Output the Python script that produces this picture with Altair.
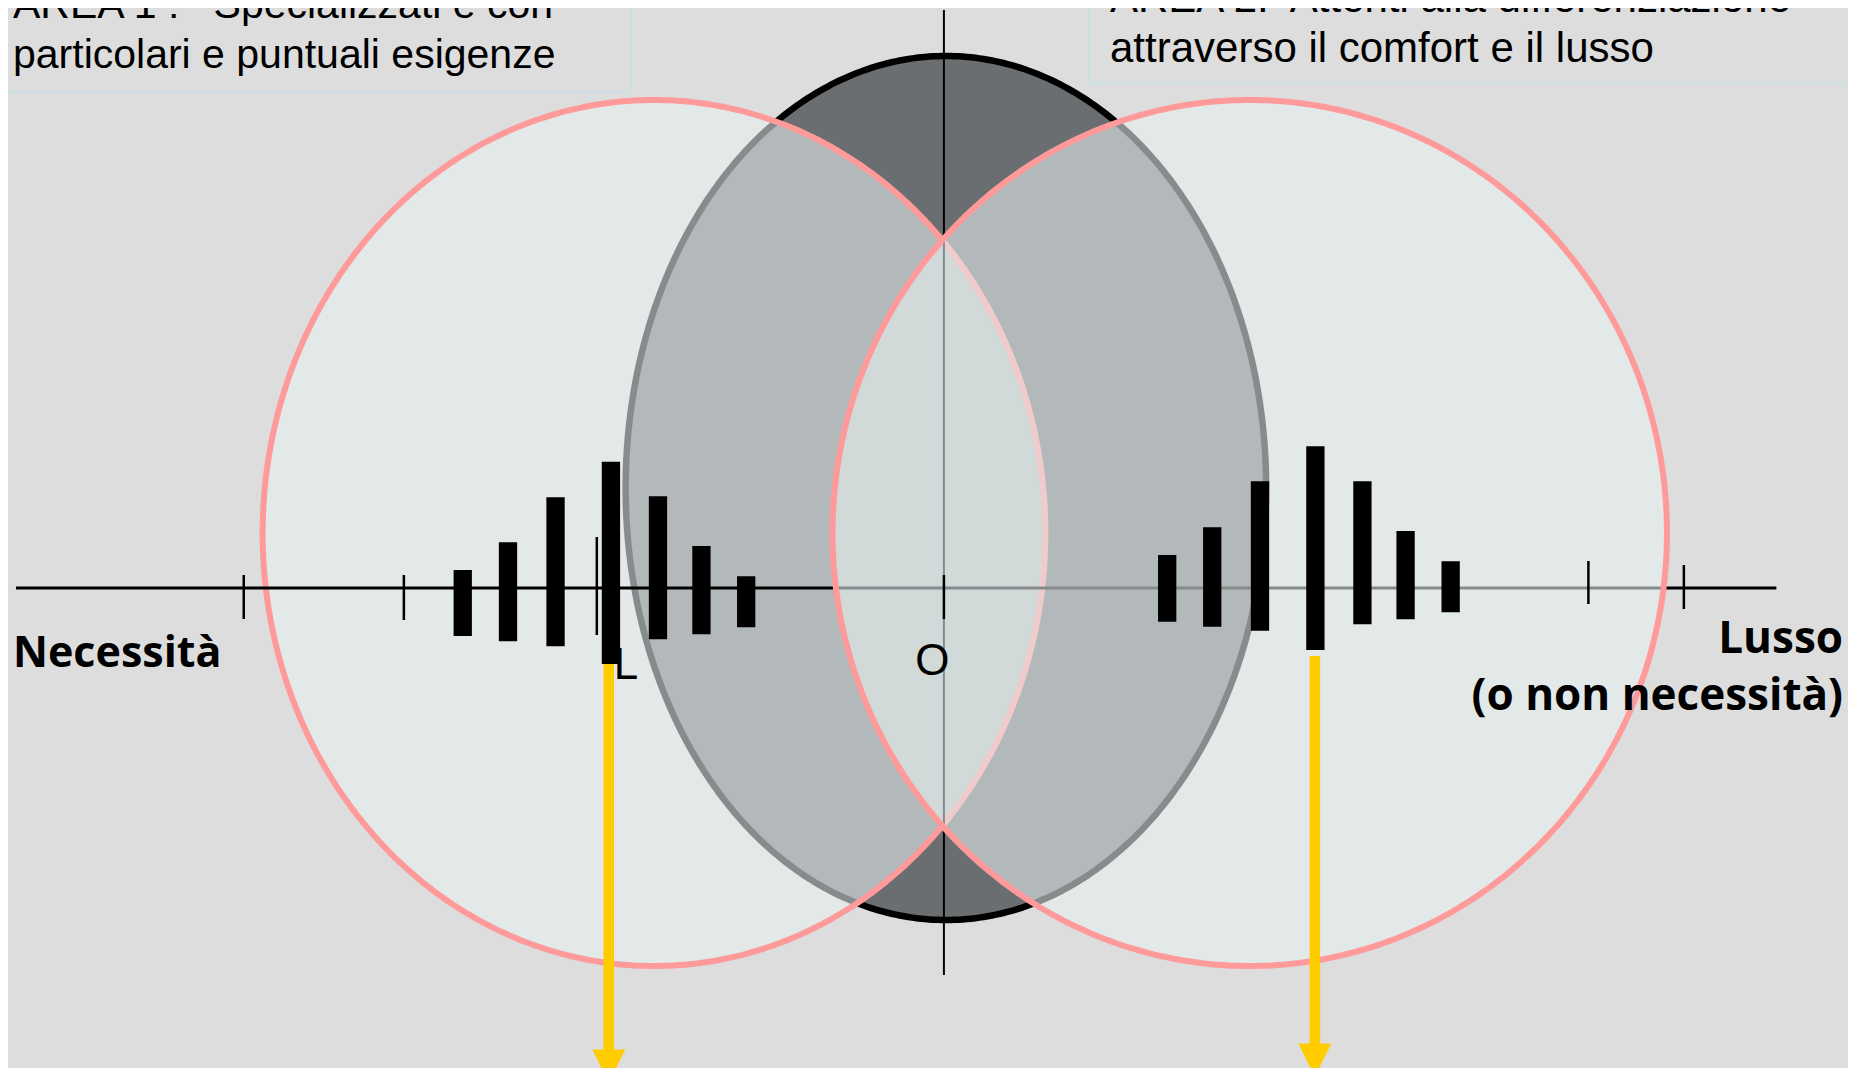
import numpy as np
import pandas as pd
import altair as alt

# ---- coordinate system: units = px right of / above the origin "O" ----
X_DOMAIN = [-936, 904]
Y_DOMAIN = [-480, 580]

# ellipses: middle, left, right  (cx, cy, rx, ry)
ELL_NAMES = ["middle", "left", "right"]
ELL_CX = [2, -291.5, 307.5]
ELL_CY = [100, 55, 55]
ELL_RX = [322, 393.5, 419.5]
ELL_RY = [432, 433, 433]

# bars (centre x, top, bottom)
LEFT_BAR_X = [-483.8, -438.3, -390.5, -334.8, -287.5, -243.8, -198.8]
LEFT_BAR_TOP = [18, 45.7, 90.7, 126.3, 91.7, 42, 11.7]
LEFT_BAR_BOTTOM = [-48, -53.3, -58.3, -76, -51.3, -46.3, -39.3]
RIGHT_BAR_X = [224.5, 269.8, 317.8, 373.5, 420.8, 464.2, 509.5]
RIGHT_BAR_TOP = [33, 60.7, 106.7, 141.7, 106.7, 57, 26.7]
RIGHT_BAR_BOTTOM = [-33.7, -38.7, -42.7, -62, -36.3, -31.3, -24.3]

# ticks on the horizontal axis
TICK_X = [-704, -543, -349, 0, 648, 744]
TICK_TOP = [13, 13, 51, 13, 27, 23]
TICK_BOTTOM = [-31, -32, -47, -31, -16, -21]

# axes
H_AXIS = [-933, 837]
V_AXIS = [-387, 578]

# arrows
ARROW_X = [-337, 373]
ARROW_TOP = [-76, -68]
ARROW_HEAD = [-478, -472]
ARROW_BASE = [-462, -456]

# text boxes
BOX_X1 = [-960, 146]
BOX_X2 = [-315, 940]
BOX_Y1 = [496, 505]
BOX_Y2 = [600, 600]

LEFT_BOX_LINES = ["AREA 1 :\u00a0\u00a0 Specializzati e con", "particolari e puntuali esigenze"]
LEFT_BOX_X = [-936, -936]
LEFT_BOX_Y = [570, 520]
RIGHT_BOX_LINES = ["AREA 2:\u00a0 Attenti alla differenziazione", "attraverso il comfort e il lusso"]
RIGHT_BOX_X = [167, 167]
RIGHT_BOX_Y = [576, 526]

BIG_LEFT = ["Necessità"]
BIG_LEFT_X = [-936]
BIG_LEFT_Y = [-79]
BIG_RIGHT = ["Lusso", "(o non necessità)"]
BIG_RIGHT_X = [904, 904]
BIG_RIGHT_Y = [-65, -122]

AXIS_LABELS = ["O", "L"]
AXIS_LABEL_X = [-11.5, -332]
AXIS_LABEL_Y = [-87, -91]

BG = "#dddddd"
CIRCLE_FILL = "#e7f0f0"
CIRCLE_ALPHA = 0.58
PINK = "#ff9a9a"
DARK = "#6b6e70"
YELLOW = "#ffcc00"
SANS = "Liberation Sans, Arial, sans-serif"
BOLD = "Open Sans"

xs = alt.Scale(domain=X_DOMAIN, nice=False, zero=False)
ys = alt.Scale(domain=Y_DOMAIN, nice=False, zero=False)


def X(f):
    return alt.X(f, type="quantitative", scale=xs, axis=None)


def Y(f):
    return alt.Y(f, type="quantitative", scale=ys, axis=None)


def ellipse_frames(k, n=240):
    cx, cy, rx, ry = ELL_CX[k], ELL_CY[k], ELL_RX[k], ELL_RY[k]
    t = np.linspace(0, np.pi, n)
    area = pd.DataFrame({"x": cx + rx * np.cos(t),
                         "y": cy + ry * np.sin(t),
                         "y2": cy - ry * np.sin(t)})
    tt = np.linspace(0, 2 * np.pi, 2 * n + 1)
    line = pd.DataFrame({"x": cx + rx * np.cos(tt), "y": cy + ry * np.sin(tt),
                         "i": np.arange(len(tt))})
    return area, line


def ell_fill(k, color, opacity):
    a, _ = ellipse_frames(k)
    return alt.Chart(a).mark_area(color=color, opacity=opacity, interpolate="linear").encode(
        x=X("x"), y=Y("y"), y2="y2")


def ell_stroke(k, color, width):
    _, l = ellipse_frames(k)
    return alt.Chart(l).mark_line(color=color, strokeWidth=width, interpolate="linear").encode(
        x=X("x"), y=Y("y"), order=alt.Order("i:Q"))


mid_fill = ell_fill(0, DARK, 1)
mid_stroke = ell_stroke(0, "#000000", 6.5)
left_fill = ell_fill(1, CIRCLE_FILL, CIRCLE_ALPHA)
left_stroke = ell_stroke(1, PINK, 6)
right_fill = ell_fill(2, CIRCLE_FILL, CIRCLE_ALPHA)
right_stroke = ell_stroke(2, PINK, 6)

h_axis = alt.Chart(pd.DataFrame({"x": [H_AXIS[0]], "x2": [H_AXIS[1]], "y": [0]})).mark_rule(
    color="#000000", strokeWidth=3).encode(x=X("x"), x2="x2", y=Y("y"))
v_axis = alt.Chart(pd.DataFrame({"x": [0], "y": [V_AXIS[0]], "y2": [V_AXIS[1]]})).mark_rule(
    color="#000000", strokeWidth=2).encode(x=X("x"), y=Y("y"), y2="y2")

bars_df = pd.DataFrame({"x": LEFT_BAR_X + RIGHT_BAR_X,
                        "top": LEFT_BAR_TOP + RIGHT_BAR_TOP,
                        "bottom": LEFT_BAR_BOTTOM + RIGHT_BAR_BOTTOM})
bars = alt.Chart(bars_df).mark_bar(color="#000000", width=18.3).encode(
    x=X("x"), y=Y("top"), y2="bottom")

ticks = alt.Chart(pd.DataFrame({"x": TICK_X, "top": TICK_TOP, "bottom": TICK_BOTTOM})).mark_rule(
    color="#000000", strokeWidth=2.5).encode(x=X("x"), y=Y("top"), y2="bottom")

arrows_df = pd.DataFrame({"x": ARROW_X, "top": ARROW_TOP, "base": ARROW_BASE, "head": ARROW_HEAD})
shafts = alt.Chart(arrows_df).mark_rule(color=YELLOW, strokeWidth=10.5).encode(
    x=X("x"), y=Y("top"), y2="base")
heads = alt.Chart(arrows_df).mark_point(shape="M-1,-1L1,-1L0,1Z", filled=True, fill=YELLOW,
                                        opacity=1, strokeWidth=0, size=1089).encode(
    x=X("x"), y=Y("head"))

boxes = alt.Chart(pd.DataFrame({"x": BOX_X1, "x2": BOX_X2, "y": BOX_Y1, "y2": BOX_Y2})).mark_rect(
    fill=BG, fillOpacity=0, stroke="#b9e4e8", strokeWidth=1.2).encode(
    x=X("x"), x2="x2", y=Y("y"), y2="y2")


def texts(lines, xv, yv, align, font, size, weight="normal"):
    df = pd.DataFrame({"t": lines, "x": xv, "y": yv})
    return alt.Chart(df).mark_text(align=align, baseline="alphabetic", font=font,
                                   fontSize=size, fontWeight=weight, color="#000000").encode(
        x=X("x"), y=Y("y"), text="t:N")


left_box_text = texts(LEFT_BOX_LINES, LEFT_BOX_X, LEFT_BOX_Y, "left", SANS, 41)
right_box_text = texts(RIGHT_BOX_LINES, RIGHT_BOX_X, RIGHT_BOX_Y, "left", SANS, 42)
big_left = texts(BIG_LEFT, BIG_LEFT_X, BIG_LEFT_Y, "left", BOLD, 43, "bold")
big_right = texts(BIG_RIGHT, BIG_RIGHT_X, BIG_RIGHT_Y, "right", BOLD, 44, "bold")
label_o = texts(AXIS_LABELS[:1], AXIS_LABEL_X[:1], AXIS_LABEL_Y[:1], "center", SANS, 44)
label_l = texts(AXIS_LABELS[1:], AXIS_LABEL_X[1:], AXIS_LABEL_Y[1:], "left", SANS, 44)

chart = alt.layer(
    boxes, left_box_text, right_box_text,
    mid_fill, mid_stroke, left_fill, left_stroke,
    h_axis, v_axis,
    right_fill, right_stroke,
    label_l, bars, ticks, label_o, big_left, big_right,
    shafts, heads,
).properties(
    width=1840, height=1060, padding=0, background=BG,
    autosize=alt.AutoSizeParams(type="none"),
).configure_view(strokeWidth=0)

chart.save("out.html", embed_options={"renderer": "svg", "actions": False})
